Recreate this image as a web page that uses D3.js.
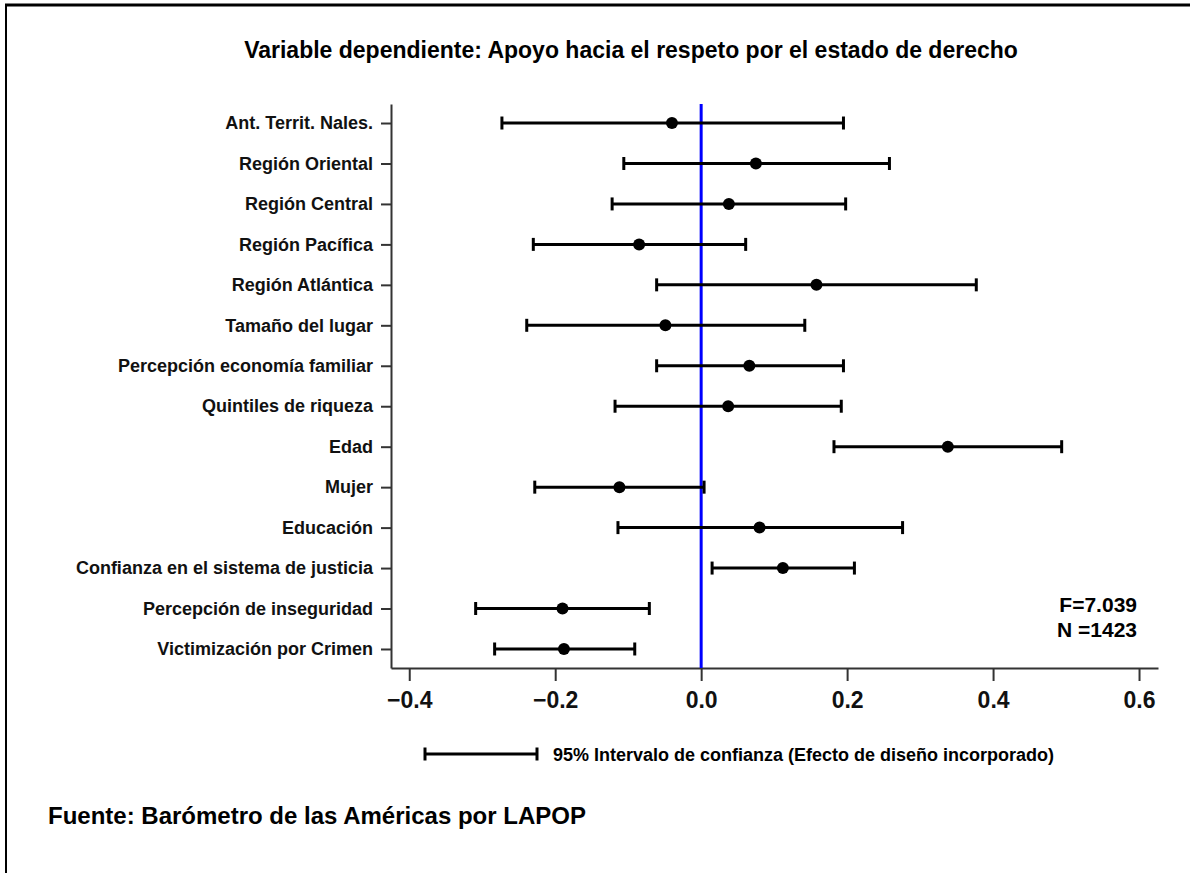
<!DOCTYPE html>
<html>
<head>
<meta charset="utf-8">
<script src="https://cdn.jsdelivr.net/npm/d3@7"></script>
<style>
  body { margin: 0; background: #fff; }
  svg { display: block; font-family: "Liberation Sans", Arial, sans-serif; }
  .axis text { font-weight: bold; fill: #111; }
</style>
</head>
<body>
<svg id="chart" width="1190" height="873"></svg>
<script>
const labels = [
  "Ant. Territ. Nales.",
  "Región Oriental",
  "Región Central",
  "Región Pacífica",
  "Región Atlántica",
  "Tamaño del lugar",
  "Percepción economía familiar",
  "Quintiles de riqueza",
  "Edad",
  "Mujer",
  "Educación",
  "Confianza en el sistema de justicia",
  "Percepción de inseguridad",
  "Victimización por Crimen"
];
const estimates = [-0.040, 0.075, 0.038, -0.085, 0.158, -0.049, 0.066, 0.037, 0.338, -0.112, 0.080, 0.112, -0.190, -0.188];
const lower = [-0.273, -0.106, -0.122, -0.230, -0.061, -0.239, -0.061, -0.118, 0.182, -0.228, -0.114, 0.015, -0.309, -0.283];
const upper = [0.195, 0.258, 0.198, 0.061, 0.377, 0.142, 0.195, 0.192, 0.494, 0.004, 0.276, 0.210, -0.071, -0.091];
const xTicks = [-0.4, -0.2, 0.0, 0.2, 0.4, 0.6];

const title = "Variable dependiente: Apoyo hacia el respeto por el estado de derecho";
const legendText = "95% Intervalo de confianza (Efecto de diseño incorporado)";
const source = "Fuente: Barómetro de las Américas por LAPOP";
const stats = ["F=7.039", "N =1423"];

const data = labels.map((label, i) => ({
  label: label,
  est: estimates[i],
  lo: lower[i],
  hi: upper[i]
}));

const svg = d3.select('#chart');

// frame (top and left edge only)
svg.append('line')
  .attr('x1', 5).attr('x2', 1190).attr('y1', 5).attr('y2', 5)
  .style('stroke', '#000').style('stroke-width', 3);
svg.append('line')
  .attr('x1', 6).attr('x2', 6).attr('y1', 5).attr('y2', 873)
  .style('stroke', '#000').style('stroke-width', 2);

const x = d3.scaleLinear()
  .domain([-0.425, 0.626])
  .range([391, 1158]);

const y = d3.scalePoint()
  .domain(labels)
  .range([104, 668])
  .padding(0.47);

svg.append('text')
  .attr('x', 631)
  .attr('y', 58)
  .attr('text-anchor', 'middle')
  .style('font-size', '23px')
  .style('font-weight', 'bold')
  .text(title);

// axes
const xAxis = svg.append('g')
  .attr('class', 'axis')
  .attr('transform', 'translate(0,668)')
  .call(d3.axisBottom(x)
    .tickValues(xTicks)
    .tickSize(13)
    .tickSizeOuter(0)
    .tickPadding(11)
    .tickFormat(d3.format('.1f')));
xAxis.selectAll('text').style('font-size', '23px');

const yAxis = svg.append('g')
  .attr('class', 'axis')
  .attr('transform', 'translate(391,0)')
  .call(d3.axisLeft(y)
    .tickSize(10)
    .tickSizeOuter(0)
    .tickPadding(8));
yAxis.selectAll('text').style('font-size', '18px');

svg.selectAll('.axis path, .axis line')
  .style('stroke', '#333')
  .style('stroke-width', 2);

// zero line
svg.append('line')
  .attr('x1', x(0)).attr('x2', x(0))
  .attr('y1', 104).attr('y2', 668)
  .style('stroke', '#0000ff')
  .style('stroke-width', 3);

// error bars
const rows = svg.append('g').selectAll('g')
  .data(data)
  .enter()
  .append('g')
  .attr('transform', d => `translate(0,${y(d.label)})`);

rows.append('line')
  .attr('x1', d => x(d.lo))
  .attr('x2', d => x(d.hi))
  .style('stroke', '#000')
  .style('stroke-width', 3);

rows.selectAll('.cap')
  .data(d => [d.lo, d.hi])
  .enter()
  .append('line')
  .attr('class', 'cap')
  .attr('x1', v => x(v)).attr('x2', v => x(v))
  .attr('y1', -6.5).attr('y2', 6.5)
  .style('stroke', '#000')
  .style('stroke-width', 3);

rows.append('circle')
  .attr('cx', d => x(d.est))
  .attr('r', 6)
  .style('fill', '#000');

// statistics
svg.selectAll('.stat')
  .data(stats)
  .enter()
  .append('text')
  .attr('class', 'stat')
  .attr('x', 1137)
  .attr('y', (d, i) => 612 + i * 25)
  .attr('text-anchor', 'end')
  .style('font-size', '21px')
  .style('font-weight', 'bold')
  .text(d => d);

// legend
const legend = svg.append('g').attr('transform', 'translate(0,754)');
legend.append('line')
  .attr('x1', 425).attr('x2', 537)
  .style('stroke', '#000').style('stroke-width', 3);
legend.selectAll('.cap')
  .data([425, 537])
  .enter()
  .append('line')
  .attr('x1', d => d).attr('x2', d => d)
  .attr('y1', -6.5).attr('y2', 6.5)
  .style('stroke', '#000').style('stroke-width', 3);
legend.append('text')
  .attr('x', 553)
  .attr('y', 6.5)
  .style('font-size', '18px')
  .style('font-weight', 'bold')
  .text(legendText);

svg.append('text')
  .attr('x', 48)
  .attr('y', 824)
  .style('font-size', '24px')
  .style('font-weight', 'bold')
  .text(source);
</script>
</body>
</html>
